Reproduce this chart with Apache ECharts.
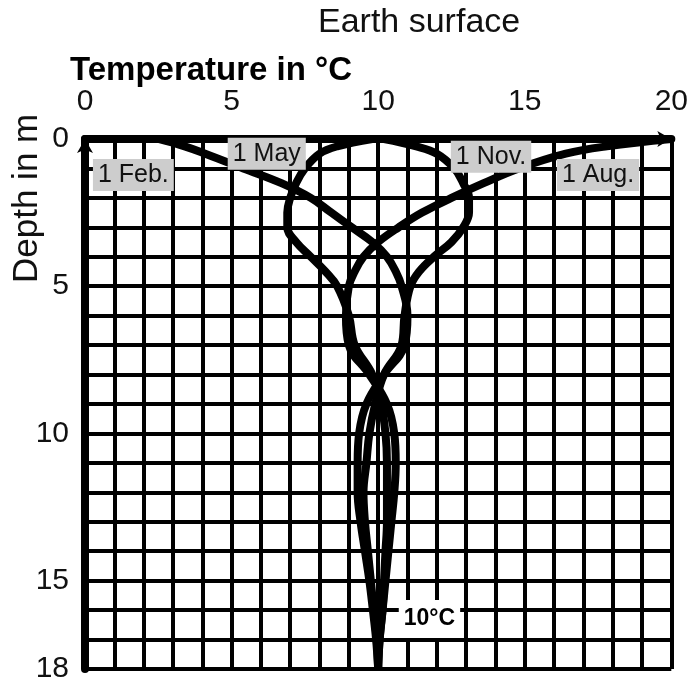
<!DOCTYPE html>
<html>
<head>
<meta charset="utf-8">
<script src="https://cdn.jsdelivr.net/npm/echarts@6/dist/echarts.min.js"></script>
<style>
  html, body { margin: 0; padding: 0; background: #fff; }
  #main { width: 691px; height: 691px; }
</style>
</head>
<body>
<div id="main"></div>
<script>
// depth in m (y), temperature in °C (x)
var depths = [0, 0.25, 0.5, 1, 1.5, 2, 2.5, 3, 3.5, 4, 4.5, 5, 6, 7, 8, 9, 10, 11, 12, 13, 14, 15, 16, 17, 18];
var feb = [2.5, 3.4, 4.1, 5.4, 6.7, 7.7, 8.4, 9.1, 9.8, 10.3, 10.6, 10.8, 11.0, 10.9, 10.2, 9.6, 9.35, 9.3, 9.3, 9.4, 9.55, 9.7, 9.82, 9.93, 10];
var may = [9.8, 8.6, 8.0, 7.5, 7.2, 7.0, 6.9, 6.9, 7.2, 7.7, 8.2, 8.6, 9.0, 9.2, 9.8, 10.1, 10.25, 10.3, 10.3, 10.3, 10.25, 10.2, 10.15, 10.05, 10];
var aug = [20, 17.8, 16.4, 14.8, 13.6, 12.5, 11.5, 10.7, 10.0, 9.5, 9.2, 9.0, 8.9, 9.0, 9.7, 10.3, 10.55, 10.6, 10.55, 10.45, 10.35, 10.25, 10.15, 10.05, 10];
var nov = [10.2, 11.3, 12.0, 12.6, 12.9, 13.1, 13.1, 12.9, 12.5, 11.9, 11.4, 11.1, 10.9, 10.8, 10.2, 9.9, 9.7, 9.6, 9.5, 9.55, 9.65, 9.75, 9.85, 9.95, 10];

var xTickLabels = [0, 5, 10, 15, 20];
var yTickLabels = [0, 5, 10, 15, 18];

// curve labels: name, temperature, depth
var noteNames = ['1 Feb.', '1 May', '1 Nov.', '1 Aug.'];
var noteTemp = [1.65, 6.2, 13.85, 17.5];
var noteDepth = [1.22, 0.5, 0.6, 1.22];

var FONT = "'Liberation Sans', Arial, sans-serif";

function pairs(temps) {
  var out = [];
  for (var i = 0; i < depths.length; i++) out.push([temps[i], depths[i]]);
  return out;
}

function curve(name, temps) {
  return {
    name: name,
    type: 'line',
    data: pairs(temps),
    smooth: 0.4,
    showSymbol: false,
    symbol: 'none',
    lineStyle: { color: '#000', width: 8 },
    z: 3
  };
}

var notes = [];
for (var i = 0; i < noteNames.length; i++) {
  notes.push({ name: noteNames[i], value: [noteTemp[i], noteDepth[i]] });
}

var dom = document.getElementById('main');
var myChart = echarts.init(dom);
var option = {
  animation: false,
  backgroundColor: '#fff',
  grid: { left: 85, right: 11, top: 139, bottom: 22, containLabel: false },
  xAxis: {
    type: 'value',
    position: 'top',
    min: 0, max: 20, interval: 1,
    axisLine: { show: true, symbol: ['none', 'arrow'], symbolSize: [12, 14], lineStyle: { color: '#000', width: 8 } },
    axisTick: { show: false },
    axisLabel: {
      margin: 22, color: '#111', fontSize: 30, fontFamily: FONT,
      formatter: function (v) { return xTickLabels.indexOf(v) >= 0 ? String(v) : ''; }
    },
    splitLine: { show: true, lineStyle: { color: '#000', width: 4 } }
  },
  yAxis: {
    type: 'value',
    inverse: true,
    min: 0, max: 18, interval: 1,
    axisLine: { show: true, symbol: ['none', 'arrow'], symbolSize: [12, 14], lineStyle: { color: '#000', width: 8 } },
    axisTick: { show: false },
    axisLabel: {
      margin: 16, color: '#111', fontSize: 30, fontFamily: FONT,
      formatter: function (v) { return yTickLabels.indexOf(v) >= 0 ? String(v) : ''; }
    },
    splitLine: { show: true, lineStyle: { color: '#000', width: 4 } }
  },
  series: [
    curve('1 Feb.', feb),
    curve('1 May', may),
    curve('1 Aug.', aug),
    curve('1 Nov.', nov),
    {
      type: 'scatter',
      symbolSize: 0,
      itemStyle: { opacity: 1 },
      data: notes,
      z: 5,
      label: {
        show: true, position: 'inside', formatter: '{b}',
        color: '#111', opacity: 1, fontSize: 25, fontFamily: FONT,
        backgroundColor: '#cdcdcd', padding: [4, 5, 3, 5]
      }
    },
    {
      type: 'scatter',
      symbolSize: 0,
      itemStyle: { opacity: 1 },
      data: [{ name: '10°C', value: [11.75, 16.3] }],
      z: 5,
      label: {
        show: true, position: 'inside', formatter: '{b}',
        color: '#000', opacity: 1, fontSize: 23, fontWeight: 'bold', fontFamily: FONT,
        backgroundColor: '#fff', padding: [8, 5, 7, 5]
      }
    }
  ],
  graphic: [
    { type: 'text', left: 318, top: 6, style: { text: 'Earth surface', fontSize: 34, fontFamily: FONT, fill: '#111' } },
    { type: 'text', left: 70, top: 54, style: { text: 'Temperature in °C', fontSize: 33, fontWeight: 'bold', fontFamily: FONT, fill: '#000' } },
    { type: 'text', x: 10, y: 283, rotation: Math.PI / 2, style: { text: 'Depth in m', fontSize: 35, fontFamily: FONT, fill: '#111' } }
  ]
};
myChart.setOption(option, true);
window.onresize = function () { myChart.resize(); };
</script>
</body>
</html>
